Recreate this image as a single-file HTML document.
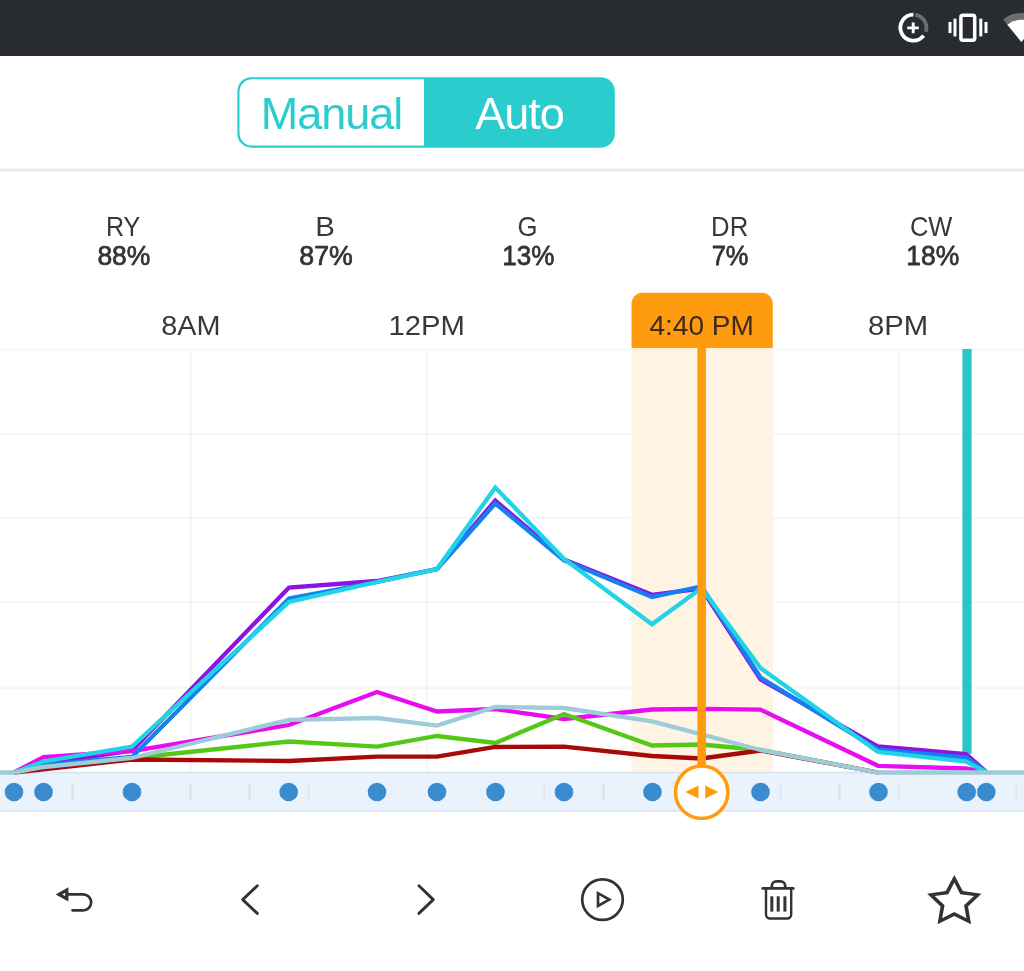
<!DOCTYPE html>
<html lang="en">
<head>
<meta charset="utf-8">
<title>Auto schedule</title>
<style>
html,body{margin:0;padding:0;background:#fff;}
body{width:1024px;height:971px;position:relative;overflow:hidden;font-family:"Liberation Sans",Arial,sans-serif;color:#333;}
.abs{position:absolute;}
#status{left:0;top:0;width:1024px;height:56px;background:#282b30;}
svg{display:block;overflow:hidden;}
svg text{font-family:"Liberation Sans",Arial,sans-serif;}
</style>
</head>
<body>
<div id="status" class="abs"></div>
<svg class="abs" style="left:0;top:0" width="1024" height="56" viewBox="0 0 1024 56">
  <g fill="none" stroke-width="3.8">
    <path d="M915.21 14.83 A13.0 13.0 0 0 1 925.76 31.72" stroke="#6c6e72"/>
    <path d="M923.64 35.70 A13.0 13.0 0 1 1 913.40 14.70" stroke="#fff"/>
  </g>
  <path d="M907.2 27.9h11.6M913.2 22.6v10.6" stroke="#fff" stroke-width="2.9" fill="none"/>
  <rect x="960.9" y="15.3" width="13.8" height="25" rx="2" fill="none" stroke="#fff" stroke-width="3.5"/>
  <rect x="953.5" y="18.7" width="3" height="17.7" fill="#fff"/>
  <rect x="948.5" y="22" width="3" height="11.1" fill="#fff"/>
  <rect x="979.3" y="18.7" width="3" height="17.7" fill="#fff"/>
  <rect x="984.5" y="22" width="3" height="11.1" fill="#fff"/>
  <path d="M1021.4 42 L1003.09 19.39 A29.1 29.1 0 0 1 1039.71 19.39Z" fill="#6c6e72"/>
  <path d="M1021.4 42 L1007.37 24.67 A22.3 22.3 0 0 1 1035.43 24.67Z" fill="#fff"/>
</svg>

<svg class="abs" style="left:0;top:60px" width="1024" height="120" viewBox="0 60 1024 120">
  <rect x="237.4" y="77.2" width="377.4" height="70.5" rx="14" fill="#2bcccd"/>
  <path d="M424 79.3 V145.6 H252 A12.5 12.5 0 0 1 239.5 133.1 V91.8 A12.5 12.5 0 0 1 252 79.3 Z" fill="#fff"/>
  <text x="331.5" y="129.2" text-anchor="middle" font-size="45" letter-spacing="-1" fill="#2bcccd">Manual</text>
  <text x="519.5" y="129.2" text-anchor="middle" font-size="45" letter-spacing="-1" fill="#fff">Auto</text>
  <rect x="0" y="168.5" width="1024" height="2.8" fill="#e8e8ec"/>
</svg>

<!--LABELS-->
<svg class="abs" style="left:0;top:190px" width="1024" height="160" viewBox="0 190 1024 160" font-size="28.5">
  <path d="M631.5 348.3 V303.3 A10.5 10.5 0 0 1 642 292.8 H762.3 A10.5 10.5 0 0 1 772.8 303.3 V348.3 Z" fill="#ff9b0f"/>
  <text transform="translate(123.11 235.7) scale(0.8820 1)" text-anchor="middle" fill="#383838">RY</text>
  <text transform="translate(123.88 265.3) scale(0.9287 1)" text-anchor="middle" fill="#333" stroke="#333" stroke-width="0.75" stroke-linejoin="round">88%</text>
  <text transform="translate(325.16 235.7) scale(1.0328 1)" text-anchor="middle" fill="#383838">B</text>
  <text transform="translate(326.03 265.3) scale(0.9378 1)" text-anchor="middle" fill="#333" stroke="#333" stroke-width="0.75" stroke-linejoin="round">87%</text>
  <text transform="translate(527.50 235.7) scale(0.9026 1)" text-anchor="middle" fill="#383838">G</text>
  <text transform="translate(528.23 265.3) scale(0.9143 1)" text-anchor="middle" fill="#333" stroke="#333" stroke-width="0.75" stroke-linejoin="round">13%</text>
  <text transform="translate(729.66 235.7) scale(0.9026 1)" text-anchor="middle" fill="#383838">DR</text>
  <text transform="translate(730.11 265.3) scale(0.8921 1)" text-anchor="middle" fill="#333" stroke="#333" stroke-width="0.75" stroke-linejoin="round">7%</text>
  <text transform="translate(931.14 235.7) scale(0.8946 1)" text-anchor="middle" fill="#383838">CW</text>
  <text transform="translate(932.67 265.3) scale(0.9292 1)" text-anchor="middle" fill="#333" stroke="#333" stroke-width="0.75" stroke-linejoin="round">18%</text>
  <text transform="translate(190.93 334.7) scale(1.0126 1)" text-anchor="middle" fill="#383838">8AM</text>
  <text transform="translate(426.62 334.7) scale(1.0276 1)" text-anchor="middle" fill="#383838">12PM</text>
  <text transform="translate(898.14 334.7) scale(1.0272 1)" text-anchor="middle" fill="#383838">8PM</text>
  <text transform="translate(701.64 334.7) scale(0.9848 1)" text-anchor="middle" fill="#3d2b1c">4:40 PM</text>
</svg>
<!--/LABELS-->

<!--CHART-->
<svg class="abs" style="left:0;top:340px" width="1024" height="500" viewBox="0 340 1024 500">
  <g stroke="#000" stroke-opacity="0.03" stroke-width="3" fill="none">
    <path d="M0 349.6H1024M0 433.9H1024M0 518H1024M0 602.2H1024M0 687.8H1024" stroke-width="2.4"/>
    <path d="M190.8 351V772M426.8 351V772M662.8 351V772M898.8 351V772"/>
  </g>
  <rect x="631.5" y="348.3" width="141.3" height="424.2" fill="#fff2e3" fill-opacity="0.96"/>
  <rect x="962.4" y="349" width="9.2" height="405" fill="#2cc4c8"/>
  <rect x="0" y="772.2" width="1024" height="39" fill="#eaf2fc"/>
  <path d="M0 772.6H1024M0 811H1024" stroke="#d7e5f4" stroke-width="1.6"/>
  <path d="M72.5 783V800.7M190.5 783V800.7M249.5 783V800.7M603.5 783V800.7M839.5 783V800.7" stroke="#d5e0ee" stroke-width="2"/>
  <path d="M308.5 783V800.7M544.5 783V800.7M780.5 783V800.7M898.5 783V800.7M1016.5 783V800.7" stroke="#dfe8f4" stroke-width="2"/>
  <g fill="none" stroke-width="4.3" stroke-linejoin="miter" stroke-linecap="butt">
    <polyline stroke="#8a14e0" points="14,772.5 43.5,764 132,750.5 289,587.5 377,581 437,569 495.3,500.5 564,559.5 652,594.8 701.5,588.5 760.5,679.3 878,746.5 966,754 987,772.5"/>
    <polyline stroke="#e80cf0" points="14,772.5 43.5,757 132,751 289,725 377,692 437,711.5 495.3,709 564,719 652,709.5 701.5,708.8 760.5,709.6 878,765.8 966,768.5 987,772.5"/>
    <polyline stroke="#1680f0" points="14,772.5 43.5,765 132,757 289,598.5 377,582 437,569 495.3,503.5 564,560.5 652,597 701.5,586.5 760.5,677.5 878,749.7 966,757.5 987,772.5"/>
    <polyline stroke="#22d3e6" points="14,772.5 43.5,761.5 132,746.5 289,602 377,582 437,569 495.3,487.5 564,559 652,624.3 701.5,588 760.5,668 878,752 966,761.7 987,772.5"/>
    <polyline stroke="#55c817" points="14,772.5 43.5,767.5 132,758 289,741.5 377,746.7 437,736 495.3,743 564,714 652,745.5 701.5,744.5 760.5,750 878,772.5"/>
    <polyline stroke="#a80a0a" points="14,772.5 43.5,769.3 132,759.5 289,761 377,756.6 437,756.6 495.3,747 564,746.7 652,756 701.5,758.5 760.5,750.5 878,772.5"/>
    <polyline stroke="#9dccd8" points="0,772.5 14,772.5 43.5,767 132,758 289,719.8 377,718 437,725.6 495.3,707 564,708 652,721.4 701.5,734.4 760.5,750 878,772.5 966,772.5 987,772.5 1024,772.5"/>
  </g>
  <rect x="697.4" y="345" width="8.5" height="430" fill="#ff9b0f"/>
  <g fill="#3b8ccf"><circle cx="14" cy="792" r="9.3"/><circle cx="43.5" cy="792" r="9.3"/><circle cx="132" cy="792" r="9.3"/><circle cx="288.7" cy="792" r="9.3"/><circle cx="377" cy="792" r="9.3"/><circle cx="437" cy="792" r="9.3"/><circle cx="495.5" cy="792" r="9.3"/><circle cx="564" cy="792" r="9.3"/><circle cx="652.5" cy="792" r="9.3"/><circle cx="760.5" cy="792" r="9.3"/><circle cx="878.5" cy="792" r="9.3"/><circle cx="966.7" cy="792" r="9.3"/><circle cx="986.3" cy="792" r="9.3"/></g>
  <circle cx="701.7" cy="792.3" r="26.2" fill="#fff" stroke="#ff9b0f" stroke-width="3.5"/>
  <path d="M685.2 792 L698.5 785.4 V798.6Z M718.3 792 L705.3 785.4 V798.6Z" fill="#ff9b0f"/>
</svg>
<!--/CHART-->

<svg class="abs" style="left:0;top:860px" width="1024" height="90" viewBox="0 860 1024 90">
  <g fill="none" stroke="#333" stroke-width="2.7" stroke-linecap="round" stroke-linejoin="round">
    <path d="M72.5 910.3 H83.2 A7.95 7.95 0 0 0 83.2 894.4 H68"/>
    <path d="M59 894.4 L66.8 890 V898.8Z" stroke-linejoin="miter" stroke-width="3.2"/>
    <path d="M257.3 885.8 L242.7 899.6 L257.3 913.4" stroke-width="2.9"/>
    <path d="M418.9 885.8 L433.3 899.6 L418.9 913.4" stroke-width="2.9"/>
    <circle cx="602.5" cy="899.6" r="20.3"/>
    <path d="M598 893.2 V906 L609.3 899.6Z" stroke-linejoin="miter"/>
    <path d="M762.7 888.4 H793.3"/>
    <path d="M771.8 887.5 V886 A4.6 4.6 0 0 1 776.4 881.4 H780.6 A4.6 4.6 0 0 1 785.2 886 V887.5"/>
    <path d="M766 889 V914.5 A4 4 0 0 0 770 918.5 H787.2 A4 4 0 0 0 791.2 914.5 V889" stroke-width="2.4"/>
  </g>
  <g fill="#333">
    <rect x="770.3" y="896.3" width="3" height="15.3"/>
    <rect x="776.7" y="896.3" width="3" height="15.3"/>
    <rect x="783.4" y="896.3" width="3" height="15.3"/>
  </g>
  <path fill="#333" fill-rule="evenodd" d="M954.30 874.90L962.78 891.04L981.43 893.76L968.02 906.46L971.07 924.29L954.30 916.00L937.53 924.29L940.58 906.46L927.17 893.76L945.82 891.04Z M954.30 882.40L960.32 894.27L973.98 896.08L964.04 905.23L966.46 918.22L954.30 912.00L942.14 918.22L944.56 905.23L934.62 896.08L948.28 894.27Z"/>
</svg>

</body>
</html>
